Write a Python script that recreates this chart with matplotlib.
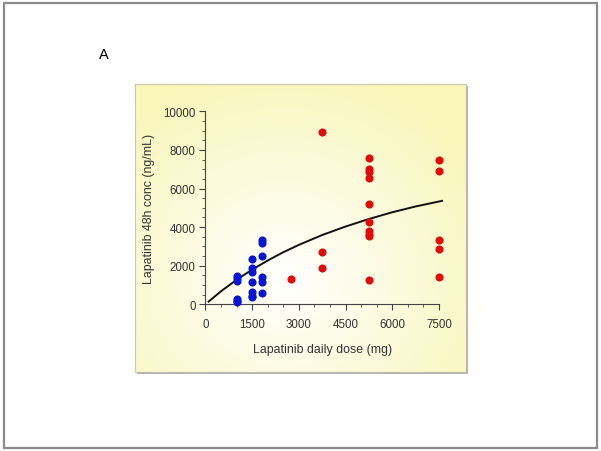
import matplotlib
matplotlib.use("Agg")
import matplotlib.pyplot as plt
import numpy as np
from matplotlib.patches import Rectangle
from matplotlib.ticker import MultipleLocator

plt.rcParams["font.family"] = ["Liberation Sans", "DejaVu Sans"]

# observed concentrations, lower dose cohort (blue)
blue_dose = [1000, 1000, 1000, 1000, 1000, 1000,
             1500, 1500, 1500, 1500, 1500, 1500, 1500,
             1800, 1800, 1800, 1800, 1800, 1800]
blue_conc = [1480, 1350, 1230, 290, 180, 120,
             2350, 1860, 1690, 1140, 620, 450, 370,
             3310, 3180, 2520, 1400, 1140, 570]

# observed concentrations, higher dose cohort (red)
red_dose = [2750,
            3750, 3750, 3750,
            5250, 5250, 5250, 5250, 5250, 5250, 5250, 5250, 5250, 5250,
            7500, 7500, 7500, 7500, 7500]
red_conc = [1310,
            8910, 2690, 1880,
            7600, 7010, 6840, 6530, 5200, 4280, 3820, 3640, 3520, 1280,
            7500, 6890, 3310, 2870, 1430]

# fitted curve
fit_dose = [100, 500, 1000, 1500, 2000, 2500, 3000, 3750, 4500, 5250, 6000, 6750, 7600]
fit_conc = [140, 680, 1270, 1800, 2270, 2700, 3080, 3590, 4030, 4420, 4770, 5070, 5360]

W, H = 601, 452
fig = plt.figure(figsize=(W / 100, H / 100), dpi=100)

# outer frame
fig.patches.append(Rectangle((3.5 / W, 3.5 / H), 593 / W, 445 / H,
                             transform=fig.transFigure, fill=False,
                             edgecolor="#8a8a8a", lw=1.6))

# yellow panel with a soft white glow
px0, py0, px1, py1 = 135, 85, 466, 373
bg = fig.add_axes([px0 / W, 1 - py1 / H, (px1 - px0) / W, (py1 - py0) / H])
gx, gy = np.meshgrid(np.linspace(0, 1, 200), np.linspace(0, 1, 200))
r = np.sqrt(((gx - 0.45) / 0.7) ** 2 + ((gy - 0.32) / 0.75) ** 2)
t = np.clip(r, 0, 1) ** 1.0
edge = np.array([249, 246, 186]) / 255
img = (1 - t[..., None]) * np.array([1.0, 1.0, 1.0]) + t[..., None] * edge
bg.imshow(img, origin="lower", extent=[0, 1, 0, 1], aspect="auto")
bg.set_xticks([])
bg.set_yticks([])
for s in bg.spines.values():
    s.set_edgecolor("#c8c8b0")
    s.set_linewidth(0.8)
fig.patches.append(Rectangle((px1 / W, 1 - (py1 + 2) / H), 2 / W, (py1 - py0) / H,
                             transform=fig.transFigure, color="#b8b8b0", lw=0))
fig.patches.append(Rectangle(((px0 + 2) / W, 1 - (py1 + 2) / H), (px1 - px0) / W, 2 / H,
                             transform=fig.transFigure, color="#b8b8b0", lw=0))

ax = fig.add_axes([205.5 / W, 1 - 305.3 / H, (439 - 205.5) / W, (305.3 - 112.3) / H])
ax.patch.set_alpha(0)
ax.scatter(blue_dose, blue_conc, s=34, color="#0a14d6", zorder=3, clip_on=False, lw=0)
ax.scatter(red_dose, red_conc, s=34, color="#e00c0c", zorder=3, clip_on=False, lw=0)
ax.plot(fit_dose, fit_conc, color="#111111", lw=1.4, clip_on=False, zorder=2)

ax.set_xlim(0, 7500)
ax.set_ylim(0, 10000)
ax.xaxis.set_major_locator(MultipleLocator(1500))
ax.xaxis.set_minor_locator(MultipleLocator(500))
ax.yaxis.set_major_locator(MultipleLocator(2000))
ax.yaxis.set_minor_locator(MultipleLocator(500))
ax.spines["top"].set_visible(False)
ax.spines["right"].set_visible(False)
for s in ("left", "bottom"):
    ax.spines[s].set_color("#444444")
    ax.spines[s].set_linewidth(0.8)
ax.tick_params(which="major", length=4, width=0.8, color="#444444",
               labelsize=8.3, labelcolor="#333333", pad=3)
ax.tick_params(axis="x", which="major", pad=6)
ax.tick_params(which="minor", length=2.5, width=0.6, color="#444444")
ax.set_xlabel("Lapatinib daily dose (mg)", fontsize=8.9, color="#333333", labelpad=9)
ax.set_ylabel("Lapatinib 48h conc (ng/mL)", fontsize=8.9, color="#333333", labelpad=6)

fig.text(104 / W, 1 - 55 / H, "A", fontsize=10.5, ha="center", va="center")

fig.savefig("out.png", dpi=100)
